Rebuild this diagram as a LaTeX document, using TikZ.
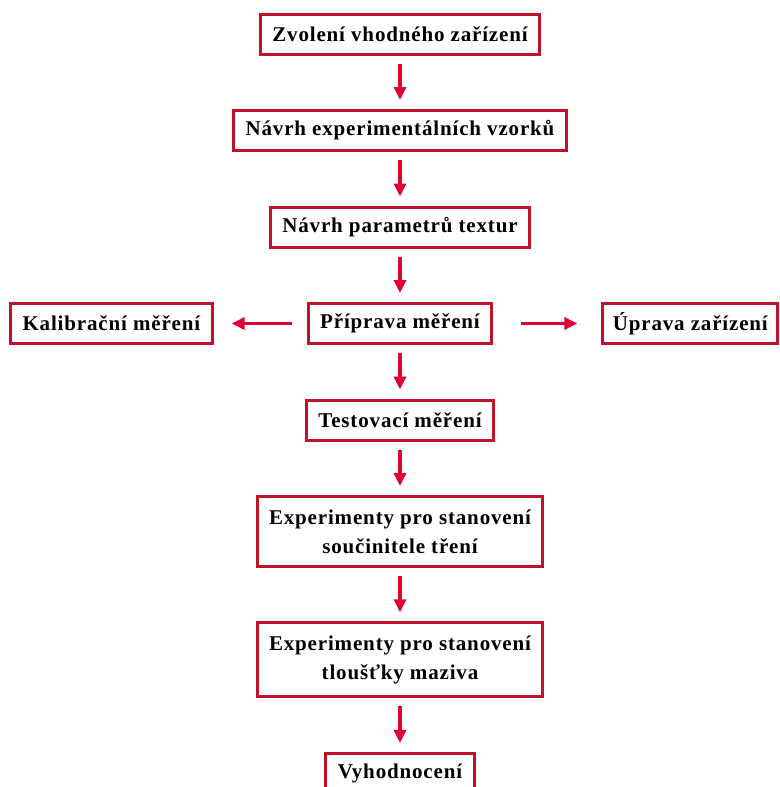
\documentclass[tikz,border=0pt]{standalone}
\usepackage{fontspec}
\setmainfont{Liberation Serif}[LetterSpace=4]
\usepackage{tikz}
\usetikzlibrary{positioning,arrows.meta}
\definecolor{boxred}{RGB}{192,18,40}
\definecolor{arrowred}{RGB}{224,0,56}
\tikzstyle{stepbox} = [draw=boxred, fill=white, line width=3pt,
    rectangle, inner xsep=12pt, inner ysep=7pt, minimum height=40pt,
    align=center, font=\fontsize{21}{29}\selectfont\bfseries]
\tikzstyle{twoline} = [inner ysep=13pt]
\tikzstyle{flowarrow} = [draw=arrowred, line width=3.5pt,
    -{Triangle[length=13pt,width=12pt]}, shorten <=8pt, shorten >=9pt]

\begin{document}
\begin{tikzpicture}[node distance=53.5pt]
\useasboundingbox (0,0) rectangle (779pt,-787pt);

\node [stepbox] (box1) at (400pt,-34pt) {Zvolení vhodného zařízení};
\node [stepbox,below=of box1] (box2) {Návrh experimentálních vzorků};
\node [stepbox,below=of box2] (box3) {Návrh parametrů textur};
\node [stepbox,below=of box3] (box4) {Příprava měření};
\node [stepbox,left=93pt of box4] (box4l) {Kalibrační měření};
\node [stepbox,right=108pt of box4,inner xsep=10pt] (box4r) {Úprava zařízení};
\node [stepbox,below=of box4] (box5) {Testovací měření};
\node [stepbox,twoline,below=of box5] (box6) {Experimenty pro stanovení\\součinitele tření};
\node [stepbox,twoline,below=of box6] (box7) {Experimenty pro stanovení\\tloušťky maziva};
\node [stepbox,below=of box7] (box8) {Vyhodnocení};

\draw [flowarrow] (box1) -- (box2);
\draw [flowarrow] (box2) -- (box3);
\draw [flowarrow] (box3) -- (box4);
\draw [flowarrow, shorten <=15pt, shorten >=18pt] (box4) -- (box4l);
\draw [flowarrow, shorten <=28pt, shorten >=24pt] (box4) -- (box4r);
\draw [flowarrow] (box4) -- (box5);
\draw [flowarrow] (box5) -- (box6);
\draw [flowarrow] (box6) -- (box7);
\draw [flowarrow] (box7) -- (box8);

\end{tikzpicture}
\end{document}
